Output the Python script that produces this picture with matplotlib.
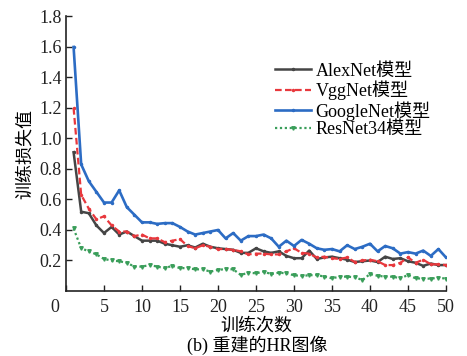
"""
Loss curves: AlexNet / VggNet / GoogleNet / ResNet34
"""
import matplotlib
matplotlib.use('Agg')
import matplotlib.pyplot as plt
import matplotlib.transforms as mtransforms

plt.rcParams['font.family'] = ['Liberation Serif', 'Noto Sans CJK SC']
plt.rcParams['axes.unicode_minus'] = False

epochs = list(range(1, 51))

alexnet = [0.91, 0.52, 0.51, 0.43, 0.38, 0.42, 0.37, 0.39, 0.36, 0.33,
           0.33, 0.33, 0.31, 0.30, 0.29, 0.30, 0.285, 0.31, 0.29, 0.28,
           0.275, 0.27, 0.25, 0.25, 0.28, 0.26, 0.25, 0.26, 0.23, 0.215,
           0.215, 0.265, 0.21, 0.22, 0.225, 0.215, 0.205, 0.19, 0.195, 0.2,
           0.19, 0.225, 0.21, 0.215, 0.195, 0.185, 0.165, 0.18, 0.17, 0.17]
vggnet = [1.2, 0.63, 0.54, 0.47, 0.49, 0.43, 0.39, 0.39, 0.36, 0.37,
          0.345, 0.345, 0.32, 0.33, 0.34, 0.295, 0.28, 0.30, 0.29, 0.275,
          0.275, 0.27, 0.26, 0.24, 0.245, 0.245, 0.24, 0.24, 0.26, 0.28,
          0.25, 0.245, 0.22, 0.225, 0.215, 0.21, 0.22, 0.19, 0.2, 0.205,
          0.195, 0.17, 0.17, 0.185, 0.22, 0.185, 0.205, 0.175, 0.175, 0.17]
googlenet = [1.6, 0.83, 0.72, 0.65, 0.58, 0.58, 0.66, 0.55, 0.50, 0.45,
             0.45, 0.44, 0.445, 0.445, 0.42, 0.39, 0.37, 0.38, 0.39, 0.40,
             0.345, 0.38, 0.33, 0.36, 0.36, 0.37, 0.345, 0.29, 0.33, 0.295,
             0.335, 0.31, 0.28, 0.27, 0.275, 0.26, 0.30, 0.275, 0.29, 0.31,
             0.26, 0.295, 0.28, 0.245, 0.255, 0.245, 0.265, 0.23, 0.275, 0.22]
resnet34 = [0.41, 0.28, 0.26, 0.24, 0.21, 0.20, 0.195, 0.185, 0.16, 0.16,
            0.17, 0.16, 0.15, 0.165, 0.15, 0.15, 0.142, 0.142, 0.127, 0.138,
            0.144, 0.142, 0.105, 0.12, 0.116, 0.127, 0.111, 0.12, 0.116, 0.103,
            0.099, 0.103, 0.105, 0.094, 0.083, 0.094, 0.094, 0.09, 0.072, 0.111,
            0.1, 0.094, 0.094, 0.083, 0.105, 0.083, 0.081, 0.081, 0.087, 0.081]

x_ticks = [0, 5, 10, 15, 20, 25, 30, 35, 40, 45, 50]
y_ticks = [0.2, 0.4, 0.6, 0.8, 1.0, 1.2, 1.4, 1.6, 1.8]

fig = plt.figure(figsize=(4.67, 3.56), dpi=100)
ax = fig.add_axes([0.1413, 0.1826, 0.8137, 0.7711])

ax.plot(epochs, alexnet, color='#454545', lw=1.8, ls='-', marker='.', ms=3,
        label='AlexNet模型')
ax.plot(epochs, vggnet, color='#e8383d', lw=1.6, ls=(0, (3, 1.5)), marker='.', ms=3,
        label='VggNet模型')
ax.plot(epochs, googlenet, color='#2c6cc4', lw=1.9, ls='-', marker='.', ms=3,
        label='GoogleNet模型')
ax.plot(epochs, resnet34, color='#3a9e5a', lw=1.6, ls=(0, (1, 1.2)), marker='v', ms=2.5,
        label='ResNet34模型')

ax.set_xlim(0, 50)
ax.set_ylim(0, 1.8)
ax.set_xticks(x_ticks)
ax.set_xticklabels([str(t) for t in x_ticks])
ax.set_yticks(y_ticks)
ax.set_yticklabels([f'{t:.1f}' for t in y_ticks])

ax.spines['top'].set_visible(False)
ax.spines['right'].set_visible(False)
for s in ['left', 'bottom']:
    ax.spines[s].set_linewidth(1.2)
    ax.spines[s].set_color('#222222')
ax.tick_params(direction='in', length=4, width=1, labelsize=13, colors='#222222')
ax.tick_params(axis='x', pad=6)
ax.tick_params(axis='y', pad=3)

# shift the origin label left like the original
lbl0 = ax.get_xticklabels()[0]
lbl0.set_transform(lbl0.get_transform() +
                   mtransforms.ScaledTranslation(-8 / 72, 0, fig.dpi_scale_trans))

ax.set_xlabel('训练次数', fontsize=13, labelpad=1)
ax.set_ylabel('训练损失值', fontsize=13, labelpad=4)

ax.legend(loc='upper left', bbox_to_anchor=(0.525, 0.865), frameon=False,
          fontsize=13, handlelength=2.0, handletextpad=0.28, labelspacing=0.05,
          borderpad=0, numpoints=1)

fig.text(0.55, 0.03, '(b) 重建的HR图像', ha='center', va='center', fontsize=13)

plt.savefig('out.png', dpi=100)
